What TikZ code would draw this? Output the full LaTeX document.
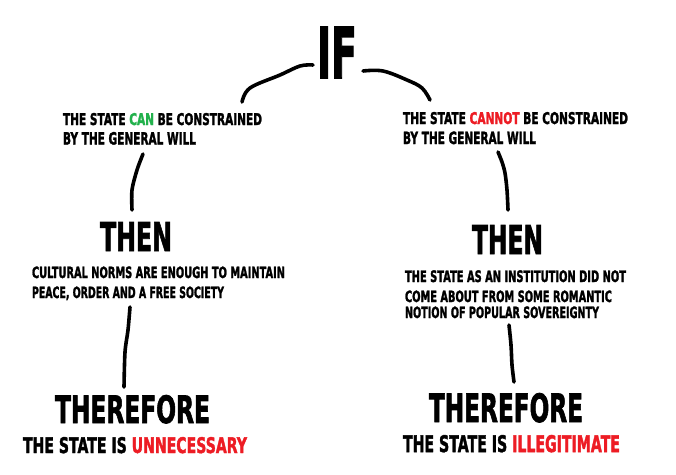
\documentclass[tikz,border=0pt]{standalone}
\usepackage{fontspec}
\setmainfont{DejaVu Sans}[BoldFeatures={FakeBold=2.2}]
\usepackage{graphicx}
\definecolor{paintgreen}{RGB}{34,177,76}
\definecolor{paintred}{RGB}{237,28,36}
\newsavebox\tmpbox
\newcommand\fitbox[3]{\sbox\tmpbox{\bfseries #3}\dp\tmpbox=0pt\resizebox{#1pt}{#2pt}{\usebox\tmpbox}}
\newcommand\tline[5]{\node[txt] (#1) at (#2) {\fitbox{#3}{#4}{#5}};}
\tikzset{
  txt/.style={anchor=south west, inner sep=0pt, outer sep=0pt},
  stroke/.style={line width=3.6pt, line cap=round, line join=round, black}
}
\begin{document}
\begin{tikzpicture}[x=1pt,y=-1pt]
\useasboundingbox[fill=white] (0,0) rectangle (676,474);
% IF
\tline{if}{317,78}{40}{51}{IF}
% left branch
\tline{cA}{63,125}{199}{12}{THE STATE \textcolor{paintgreen}{CAN} BE CONSTRAINED}
\tline{cB}{63,144.5}{133}{12.5}{BY THE GENERAL WILL}
\tline{thenL}{100,251}{72}{29}{THEN}
\tline{nA}{32,278}{253}{11.5}{CULTURAL NORMS ARE ENOUGH TO MAINTAIN}
\tline{nB}{32,298}{192}{11.5}{PEACE, ORDER AND A FREE SOCIETY}
\tline{thfL}{55,423}{155}{28}{THEREFORE}
\tline{resL}{23,453}{224}{16}{THE STATE IS \textcolor{paintred}{UNNECESSARY}}
% right branch
\tline{dA}{403,124}{225}{12}{THE STATE \textcolor{paintred}{CANNOT} BE CONSTRAINED}
\tline{dB}{403,144}{133}{12.5}{BY THE GENERAL WILL}
\tline{thenR}{472,254}{71}{29}{THEN}
\tline{sA}{405,282}{221}{11.7}{THE STATE AS AN INSTITUTION DID NOT}
\tline{sB}{405,302}{207}{11.5}{COME ABOUT FROM SOME ROMANTIC}
\tline{sC}{405,318}{194}{11.5}{NOTION OF POPULAR SOVEREIGNTY}
\tline{thfR}{429,422}{154}{29}{THEREFORE}
\tline{resR}{403,452}{217}{17}{THE STATE IS \textcolor{paintred}{ILLEGITIMATE}}
% strokes
\coordinate (ifL) at (313,65);
\coordinate (ifR) at (363,71);
\coordinate (lA) at (242,102);
\coordinate (rA) at (430,100);
\draw[stroke] plot[smooth,tension=0.6] coordinates {(ifL) (300,66) (280,75) (250,88) (lA)};
\draw[stroke] plot[smooth,tension=0.6] coordinates {(ifR) (383,71) (407,80) (422,88) (rA)};
\draw[stroke] plot[smooth,tension=0.5] coordinates {(143,154) (137,170) (132,190) (132,210)};
\draw[stroke] plot[smooth,tension=0.5] coordinates {(498,152) (502,162) (505,173) (507,190) (508,210)};
\draw[stroke] plot[smooth,tension=0.5] coordinates {(130,307) (128,330) (125,352) (124,387)};
\draw[stroke] plot[smooth,tension=0.5] coordinates {(509,325) (511,345) (512,365) (514,382)};
\end{tikzpicture}
\end{document}
